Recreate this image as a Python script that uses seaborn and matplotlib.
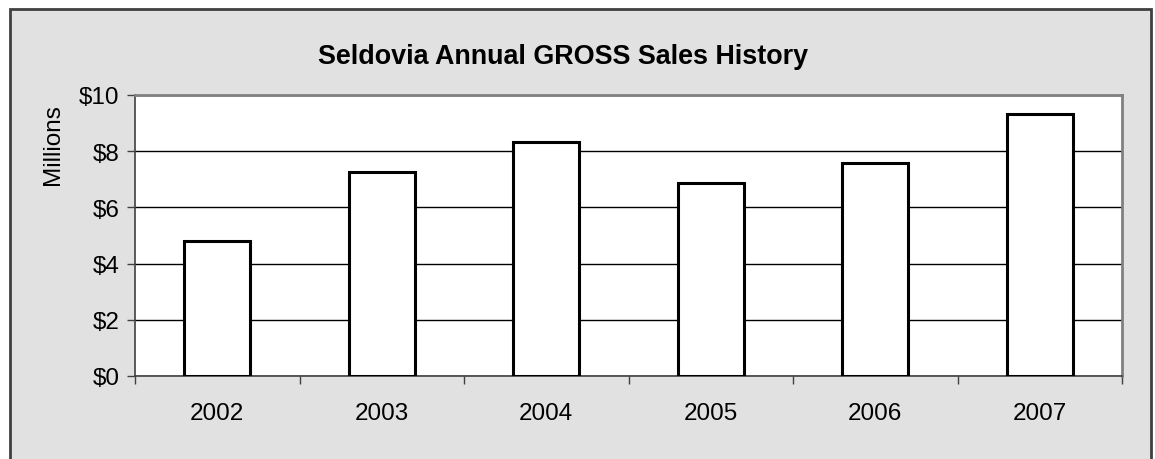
import pandas as pd
import seaborn as sns
import matplotlib.pyplot as plt
from matplotlib.patches import Rectangle
from matplotlib.ticker import FuncFormatter

# data (millions of dollars)
years = ["2002", "2003", "2004", "2005", "2006", "2007"]
sales = [4.80, 7.26, 8.33, 6.87, 7.58, 9.32]

df = pd.DataFrame({"year": years, "sales": sales})

sns.set_theme(style="white")
plt.rcParams['font.family'] = ['Liberation Sans', 'DejaVu Sans']
plt.rcParams['text.color'] = 'black'
plt.rcParams['axes.labelcolor'] = 'black'
plt.rcParams['xtick.color'] = 'black'
plt.rcParams['ytick.color'] = 'black'

W, H = 1155, 460
fig = plt.figure(figsize=(W / 100, H / 100), dpi=100, facecolor="white")

# grey chart area frame
fig.patches.append(Rectangle((10 / W, -0.05), 1141 / W, (H - 10) / H + 0.05,
                             transform=fig.transFigure, facecolor="#e1e1e1",
                             edgecolor="#404040", linewidth=2, zorder=-5))

ax = fig.add_axes([135 / W, (H - 377) / H, (1122 - 135) / W, (377 - 96) / H])
ax.set_facecolor("white")

sns.barplot(data=df, x="year", y="sales", ax=ax, color="white",
            edgecolor="black", linewidth=2.2, width=0.4, zorder=3)

ax.set_ylim(0, 10)
ax.set_yticks([0, 2, 4, 6, 8, 10])
ax.yaxis.set_major_formatter(FuncFormatter(lambda v, p: f"${v:.0f}"))
ax.set_xlim(-0.5, 5.5)
ax.set_xticks([i - 0.5 for i in range(7)], minor=False)
ax.set_xticklabels([])
ax.set_xticks(range(6), minor=True)
ax.set_xticklabels(years, minor=True)

ax.grid(axis="y", color="black", linewidth=1, zorder=0)
ax.set_axisbelow(True)

ax.tick_params(axis="y", which="major", direction="out", length=6, width=1,
               color="#404040", labelsize=17.5, pad=5, left=True)
ax.tick_params(axis="x", which="major", direction="out", length=6, width=1,
               color="#404040", bottom=True)
ax.tick_params(axis="x", which="minor", length=0, labelsize=17.5, pad=19)

for side in ["top", "right"]:
    ax.spines[side].set_color("#808080")
    ax.spines[side].set_linewidth(2)
for side in ["left", "bottom"]:
    ax.spines[side].set_color("#404040")
    ax.spines[side].set_linewidth(1.2)

ax.set_xlabel("")
ax.set_ylabel("Millions", fontsize=17.5)
ax.yaxis.set_label_coords(-0.072, 0.826)

fig.text(563 / W, (H - 57) / H, "Seldovia Annual GROSS Sales History",
         ha="center", va="center", fontsize=19.4, fontweight="bold")

fig.savefig("out.png", dpi=100)
